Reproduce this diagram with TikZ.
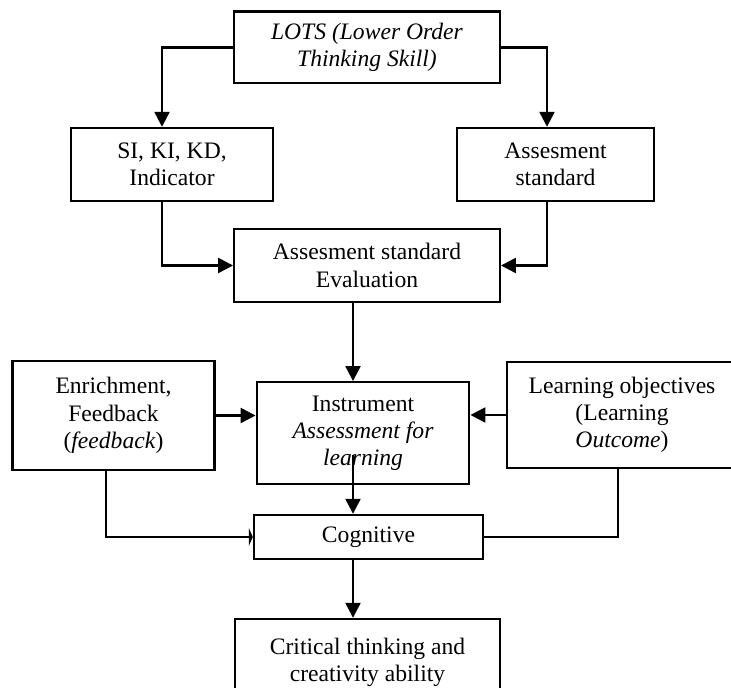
\documentclass[tikz,border=0pt]{standalone}
\usepackage{fontspec}
\setmainfont{Liberation Serif}
\usetikzlibrary{arrows.meta}
\newcommand{\comma}{,}

\begin{document}
\begin{tikzpicture}[x=0.5pt,y=-0.5pt,
    box/.style={draw,line width=1.2pt,align=center,inner sep=0pt,font=\fontsize{11.8}{13.6}\selectfont},
    link/.style={line width=1.2pt,-{Triangle[length=7.5pt,width=7.5pt]}}]
    \useasboundingbox (0,0) rectangle (731,688);
    \foreach \n/\x/\y/\w/\h/\t in {
      lots/367/47.5/132.75pt/35.8pt/{\textit{LOTS (Lower Order}\\\textit{Thinking Skill)}},
      si/172/164.5/101pt/36.5pt/{SI\comma{} KI\comma{} KD\comma\\Indicator},
      std/555.5/164.5/98.5pt/36.5pt/{Assesment\\standard},
      eval/367/265.5/132.75pt/36.5pt/{Assesment standard\\Evaluation},
      enrich/113.5/415.5/101pt/54.5pt/{Enrichment\comma\\Feedback\\(\textit{feedback})},
      instr/363/433/106.25pt/50.75pt/{Instrument\\\textit{Assessment for}\\\textit{learning}},
      learn/622/415/115pt/53pt/{Learning objectives\\(Learning\\\textit{Outcome})},
      cog/368.5/537/114.5pt/22pt/{Cognitive},
      crit/367.5/662/132.5pt/43pt/{Critical thinking and\\creativity ability}}
    {
      \node[box,minimum width=\w,minimum height=\h] (\n) at (\x,\y) {\t};
    }
    \coordinate (instrout) at (353,455);
    \draw[link] (lots.west) -| ([xshift=-5pt]si.north);
    \draw[link] (lots.east) -| ([xshift=-4.25pt]std.north);
    \draw[link] ([xshift=-5pt]si.south) |- (eval.west);
    \draw[link] ([xshift=-4.25pt]std.south) |- (eval.east);
    \draw[link] ([xshift=-7pt]eval.south) -- ([xshift=-7pt]eval.south |- instr.north);
    \draw[link] (enrich.east) -- (enrich.east -| instr.west);
    \draw[link] (learn.west) -- (learn.west -| instr.east);
    \draw[link] (instrout) -- (instrout |- cog.north);
    \draw[line width=1.2pt,-{Triangle[length=2pt,width=9pt]}] ([xshift=-3.75pt]enrich.south) |- (cog.west);
    \draw[line width=1.2pt] ([xshift=-2pt]learn.south) |- (cog.east);
    \draw[link] ([xshift=-7.75pt]cog.south) -- ([xshift=-7.75pt]cog.south |- crit.north);
  \end{tikzpicture}
\end{document}
